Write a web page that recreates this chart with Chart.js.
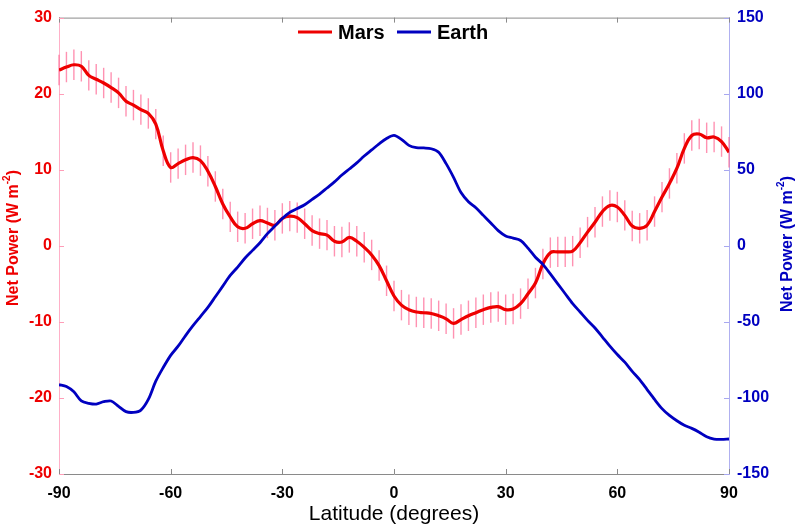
<!DOCTYPE html>
<html><head><meta charset="utf-8">
<script src="https://cdn.jsdelivr.net/npm/chart.js@4/dist/chart.umd.min.js"></script>
<style>html,body{margin:0;padding:0;background:#fff}</style>
</head><body>
<canvas id="c" width="800" height="528"></canvas>
<script>
// ---- data ----
const latitudes = [-90,-88,-86,-84,-82,-80,-78,-76,-74,-72,-70,-68,-66,-64,-62,-60,-58,-56,-54,-52,-50,-48,-46,-44,-42,-40,-38,-36,-34,-32,-30,-28,-26,-24,-22,-20,-18,-16,-14,-12,-10,-8,-6,-4,-2,0,2,4,6,8,10,12,14,16,18,20,22,24,26,28,30,32,34,36,38,40,42,44,46,48,50,52,54,56,58,60,62,64,66,68,70,72,74,76,78,80,82,84,86,88,90];
const marsPower = [23.1,23.5,23.8,23.6,22.4,21.9,21.4,20.8,20.1,19.0,18.5,17.9,17.4,16.0,12.5,10.3,10.8,11.3,11.6,11.2,9.8,7.8,5.5,3.8,2.5,2.3,2.9,3.3,3.0,2.7,3.6,3.9,3.7,2.9,2.0,1.6,1.4,0.6,0.5,1.1,0.6,-0.2,-1.2,-2.6,-4.6,-6.6,-7.8,-8.4,-8.7,-8.8,-8.9,-9.2,-9.6,-10.2,-9.7,-9.2,-8.8,-8.4,-8.1,-8.0,-8.4,-8.3,-7.6,-6.3,-4.9,-2.4,-0.9,-0.8,-0.8,-0.7,0.4,1.8,3.1,4.5,5.3,5.1,4.0,2.6,2.3,2.7,4.5,6.4,8.2,10.2,12.8,14.5,14.7,14.2,14.3,13.7,12.3];
const marsErrorHalf = 2.0;
const earthPower = [-91.3,-92.5,-96,-102,-103.5,-104,-102.5,-102,-105.5,-109,-109.5,-108,-101,-89,-80,-72,-66,-59,-52.5,-46.5,-40.5,-33.5,-26.5,-19.5,-14,-8,-3,2,8,13,18,22,24.5,27,30.5,34,38,42,46.5,50.5,54.5,59,63,67,70.5,72.6,70,66,64.5,64.3,63.8,61.5,54,45,35,29,25,20,15,10,6.5,5.1,3.5,-1.5,-7.5,-12.2,-18.5,-25,-31.5,-38,-43.5,-49,-54,-60,-66,-71.5,-76.5,-82.5,-88,-94.5,-101,-107,-111.5,-115,-118,-120,-122.5,-125.5,-127,-127.2,-127];
const xTicks = [-90,-60,-30,0,30,60,90];
const marsTicks = [-30,-20,-10,0,10,20,30];
const earthTicks = [-150,-100,-50,0,50,100,150];
const seriesNames = ['Mars','Earth'];

const RED = '#ee0000', BLUE = '#0000c0';
const FONT = '"Liberation Sans", Arial, Helvetica, sans-serif';

function drawTitle(ctx, cx, cy, main, sup, tail, size, color){
  ctx.save();
  ctx.translate(cx, cy);
  ctx.rotate(-Math.PI/2);
  ctx.fillStyle = color;
  ctx.textBaseline = 'middle';
  ctx.textAlign = 'left';
  const big = 'bold ' + size + 'px ' + FONT;
  const small = 'bold ' + Math.round(size*0.62) + 'px ' + FONT;
  ctx.font = big;
  const wm = ctx.measureText(main).width;
  const wt = ctx.measureText(tail).width;
  ctx.font = small;
  const ws = ctx.measureText(sup).width;
  const total = wm + ws + wt;
  const x0 = -total/2;
  ctx.font = big;
  ctx.fillText(main, x0, 0);
  ctx.font = small;
  ctx.fillText(sup, x0 + wm, -size*0.42);
  ctx.font = big;
  ctx.fillText(tail, x0 + wm + ws, 0);
  ctx.restore();
}

const decor = {
  id: 'decor',
  beforeDatasetsDraw(chart){
    const {ctx, scales:{x, y}} = chart;
    ctx.save();
    ctx.strokeStyle = 'rgba(255,100,145,0.7)';
    ctx.lineWidth = 1.4;
    latitudes.forEach((lat, i) => {
      const px = x.getPixelForValue(lat);
      ctx.beginPath();
      ctx.moveTo(px, y.getPixelForValue(marsPower[i] - marsErrorHalf));
      ctx.lineTo(px, y.getPixelForValue(marsPower[i] + marsErrorHalf));
      ctx.stroke();
    });
    ctx.restore();
  },
  afterDraw(chart){
    const {ctx, chartArea:a, scales:{x, y, y1}} = chart;
    ctx.save();
    ctx.strokeStyle = '#8a8a8a'; ctx.lineWidth = 1;
    ctx.beginPath(); ctx.moveTo(a.left, a.top + 0.5); ctx.lineTo(a.right, a.top + 0.5); ctx.stroke();
    const tl = 5;
    xTicks.forEach(v => {
      const px = Math.round(x.getPixelForValue(v)) + 0.5;
      ctx.beginPath(); ctx.moveTo(px, a.bottom); ctx.lineTo(px, a.bottom - tl);
      ctx.moveTo(px, a.top); ctx.lineTo(px, a.top + tl); ctx.stroke();
    });
    ctx.strokeStyle = '#ff9db8';
    marsTicks.forEach(v => {
      const py = Math.round(y.getPixelForValue(v)) + 0.5;
      ctx.beginPath(); ctx.moveTo(a.left, py); ctx.lineTo(a.left + tl, py); ctx.stroke();
    });
    ctx.strokeStyle = '#a8a8f0';
    earthTicks.forEach(v => {
      const py = Math.round(y1.getPixelForValue(v)) + 0.5;
      ctx.beginPath(); ctx.moveTo(a.right, py); ctx.lineTo(a.right - tl, py); ctx.stroke();
    });
    // legend
    const ly = 32;
    const items = [[seriesNames[0], RED, 298], [seriesNames[1], BLUE, 397]];
    ctx.font = 'bold 20px ' + FONT;
    ctx.textBaseline = 'middle';
    ctx.textAlign = 'left';
    items.forEach(([name, col, lx]) => {
      ctx.strokeStyle = col; ctx.lineWidth = 3;
      ctx.beginPath(); ctx.moveTo(lx, ly); ctx.lineTo(lx + 34, ly); ctx.stroke();
      ctx.fillStyle = '#000';
      ctx.fillText(name, lx + 40, ly + 1);
    });
    // axis titles
    ctx.fillStyle = '#000';
    ctx.font = '21px ' + FONT;
    ctx.textAlign = 'center';
    ctx.textBaseline = 'middle';
    ctx.fillText('Latitude (degrees)', (a.left + a.right) / 2, 514);
    drawTitle(ctx, 14, 238, 'Net Power (W m', '-2', ')', 16, RED);
    drawTitle(ctx, 788, 244, 'Net Power (W m', '-2', ')', 16, BLUE);
    ctx.restore();
  }
};

const tickFont = { size: 16, family: FONT, weight: 'bold' };

new Chart(document.getElementById('c'), {
  type: 'line',
  data: {
    datasets: [
      { label: seriesNames[1], data: latitudes.map((l, i) => ({x: l, y: earthPower[i]})),
        yAxisID: 'y1', borderColor: BLUE, borderWidth: 2.8, pointRadius: 0, tension: 0.3, order: 0 },
      { label: seriesNames[0], data: latitudes.map((l, i) => ({x: l, y: marsPower[i]})),
        yAxisID: 'y', borderColor: RED, borderWidth: 3.2, pointRadius: 0, tension: 0.4, order: 1 }
    ]
  },
  options: {
    responsive: false, animation: false, devicePixelRatio: 1,
    layout: { padding: { top: 7, left: 0, right: 0, bottom: 0 } },
    plugins: { legend: { display: false }, tooltip: { enabled: false } },
    scales: {
      x: {
        type: 'linear', min: -90, max: 90,
        afterBuildTicks: s => { s.ticks = xTicks.map(v => ({value: v})); },
        afterFit: s => { s.height = 54; },
        ticks: { color: '#000', font: tickFont, padding: 10, maxRotation: 0 },
        grid: { display: false, drawTicks: false },
        border: { display: true, color: '#8a8a8a', width: 1 }
      },
      y: {
        type: 'linear', position: 'left', min: -30, max: 30,
        afterBuildTicks: s => { s.ticks = marsTicks.map(v => ({value: v})); },
        afterFit: s => { s.width = 59; },
        ticks: { color: RED, font: tickFont, padding: 7 },
        grid: { display: false, drawTicks: false },
        border: { display: true, color: '#ffb0c8', width: 1 }
      },
      y1: {
        type: 'linear', position: 'right', min: -150, max: 150,
        afterBuildTicks: s => { s.ticks = earthTicks.map(v => ({value: v})); },
        afterFit: s => { s.width = 71; },
        ticks: { color: BLUE, font: tickFont, padding: 8 },
        grid: { display: false, drawTicks: false },
        border: { display: true, color: '#b0b0f0', width: 1 }
      }
    }
  },
  plugins: [decor]
});
</script>
</body></html>
